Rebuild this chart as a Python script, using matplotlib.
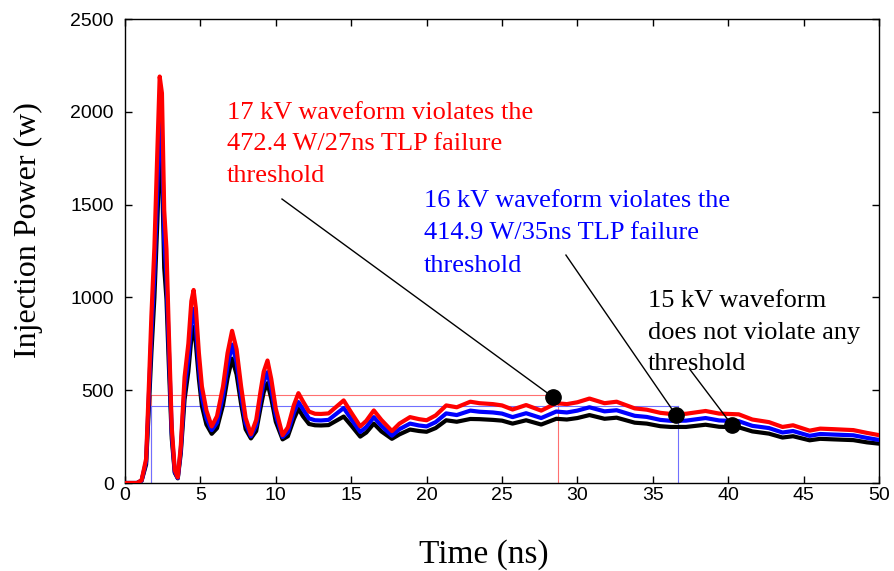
import matplotlib
matplotlib.use("Agg")
import matplotlib.pyplot as plt

# Time axis (ns) shared by the three waveforms
time_ns = [0, 0.8, 1.1, 1.4, 1.6, 1.75, 1.95, 2.15, 2.3, 2.45, 2.6, 2.75, 2.9, 3.1, 3.3, 3.5,
           3.7, 3.95, 4.2, 4.4, 4.55, 4.7, 4.9, 5.1, 5.4, 5.75, 6.1, 6.5, 6.8, 7.1, 7.4, 7.7,
           8.0, 8.35, 8.7, 9.0, 9.2, 9.45, 9.7, 10.0, 10.45, 10.8, 11.2, 11.5, 11.8, 12.2, 12.6,
           13.0, 13.5, 14.0, 14.5, 15.0, 15.6, 16.0, 16.5, 17.0, 17.7, 18.2, 18.9, 19.5, 20.0,
           20.6, 21.3, 22.0, 22.9, 23.5, 24.4, 25.0, 25.7, 26.6, 27.6, 28.6, 29.3, 30.0, 30.8,
           31.8, 32.6, 33.8, 34.6, 35.5, 36.2, 37.2, 38.5, 39.4, 40.7, 41.6, 42.7, 43.6, 44.3,
           45.4, 46.1, 47.0, 48.3, 49.2, 50.0]

# Injection power (W) for the 17 kV, 16 kV and 15 kV discharges
power_17kv = [0, 0, 15, 130, 560, 900, 1270, 1800, 2190, 2100, 1470, 1260, 830, 300, 70, 30,
              200, 570, 750, 980, 1040, 940, 700, 520, 390, 305, 360, 520, 700, 820, 720, 520,
              350, 262, 340, 500, 600, 660, 560, 400, 258, 300, 420, 484, 440, 385, 373,
              372, 375, 410, 445, 380, 305, 335, 391, 340, 280, 320, 355, 344, 338,
              364, 418, 408, 438, 430, 425, 418, 396, 420, 390, 430, 425, 435, 455,
              430, 438, 402, 395, 378, 372, 373, 388, 374, 370, 342, 328, 302, 311,
              282, 293, 290, 285, 270, 258]

power_16kv = [0, 0, 13, 115, 500, 800, 1130, 1600, 1960, 1870, 1310, 1120, 740, 270, 60, 27,
              180, 510, 670, 870, 938, 840, 625, 465, 350, 285, 325, 470, 630, 746, 650, 470,
              320, 252, 310, 455, 545, 597, 505, 365, 248, 275, 380, 436, 398, 348, 338,
              337, 340, 372, 404, 345, 275, 302, 355, 308, 255, 290, 320, 310, 305,
              328, 375, 366, 390, 384, 380, 374, 355, 376, 350, 385, 380, 390, 408,
              386, 392, 362, 356, 340, 335, 336, 350, 337, 333, 308, 296, 272, 280,
              254, 264, 261, 257, 243, 232]

power_15kv = [0, 0, 12, 100, 440, 700, 1000, 1420, 1780, 1700, 1160, 990, 650, 240, 55, 25,
              160, 450, 600, 780, 840, 750, 560, 415, 315, 265, 295, 420, 565, 670, 585, 425,
              290, 240, 280, 410, 490, 538, 455, 330, 235, 252, 345, 400, 360, 318, 311,
              310, 312, 335, 358, 310, 250, 272, 320, 278, 238, 262, 288, 280, 276,
              296, 338, 330, 345, 344, 340, 336, 320, 338, 315, 346, 342, 350, 366,
              346, 352, 325, 320, 306, 302, 302, 314, 303, 300, 278, 266, 245, 252,
              230, 238, 235, 231, 219, 212]

# TLP failure thresholds: power level (W) and pulse width (ns), pulse starting at 1.7 ns
pulse_start = 1.7
threshold_red = (472.4, 27.0)
threshold_blue = (414.9, 35.0)

# Marked points and the text each one is labelled with
marker_pts = [(28.38, 463), (36.54, 366), (40.25, 312)]
leader_starts = [(10.41, 1530), (29.24, 1228), (37.44, 614)]
label_17kv = ["17 kV waveform violates the", "472.4 W/27ns TLP failure", "threshold"]
label_16kv = ["16 kV waveform violates the", "414.9 W/35ns TLP failure", "threshold"]
label_15kv = ["15 kV waveform", "does not violate any", "threshold"]
label_x = [6.76, 19.83, 34.68]
label_baselines = [[1960, 1794, 1623], [1485, 1313, 1138], [950, 776, 609]]
label_colors = ["#ff0000", "#0000ff", "#000000"]

x_ticks = list(range(0, 51, 5))
y_ticks = list(range(0, 2501, 500))

serif = "Liberation Serif"
sans = "Liberation Sans"

fig = plt.figure(figsize=(8.94, 5.71), dpi=100)
ax = fig.add_axes([125 / 894, 1 - 483 / 571, 754 / 894, 464 / 571])

# threshold guide lines
for (level, width), col in [(threshold_red, "#ff7070"), (threshold_blue, "#7070ff")]:
    end = pulse_start + width
    ax.plot([pulse_start, end], [level, level], color=col, lw=0.8, zorder=1)
    ax.plot([end, end], [0, level], color=col, lw=0.8, zorder=1)
    ax.plot([pulse_start, pulse_start], [0, level], color=col, lw=0.8, zorder=1)

ax.plot(time_ns, power_15kv, color="#000000", lw=3.0, zorder=3)
ax.plot(time_ns, power_16kv, color="#0000ff", lw=3.0, zorder=4)
ax.plot(time_ns, power_17kv, color="#ff0000", lw=3.0, zorder=5)

for (x0, y0), (x1, y1) in zip(leader_starts, marker_pts):
    ax.plot([x0, x1], [y0, y1], color="black", lw=1.0, zorder=6)
    ax.plot([x1], [y1], "o", color="black", ms=11, zorder=7)

for lines, x, bases, col in zip([label_17kv, label_16kv, label_15kv], label_x,
                                label_baselines, label_colors):
    for s, b in zip(lines, bases):
        ax.text(x, b, s, color=col, fontsize=19, family=serif, ha="left", va="baseline", zorder=8)

ax.set_xlim(0, 50)
ax.set_ylim(0, 2500)
ax.set_xticks(x_ticks)
ax.set_yticks(y_ticks)
ax.tick_params(direction="in", length=5, width=1, top=True, right=True,
               labelsize=14)
ax.tick_params(axis="x", pad=3)
ax.tick_params(axis="y", pad=8)
for lab in ax.get_xticklabels() + ax.get_yticklabels():
    lab.set_family(sans)
for sp in ax.spines.values():
    sp.set_linewidth(1.0)

fig.text(28 / 894, 1 - 230 / 571, "Injection Power (w)", rotation=90, ha="center", va="center",
         fontsize=23, family=serif)
fig.text(484 / 894, 1 - 563 / 571, "Time (ns)", ha="center", va="baseline",
         fontsize=24, family=serif)

fig.savefig("out.png", dpi=100)
